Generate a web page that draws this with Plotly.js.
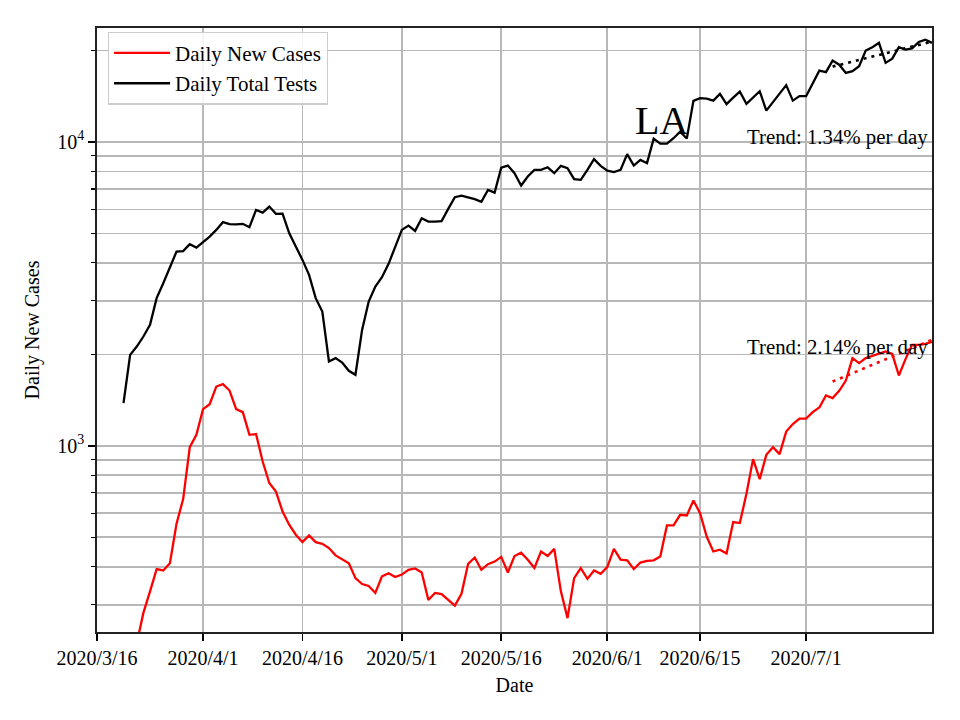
<!DOCTYPE html>
<html>
<head>
<meta charset="utf-8">
<script src="https://cdn.plot.ly/plotly-3.0.1.min.js"></script>
<style>html,body{margin:0;padding:0;background:#fff;}</style>
</head>
<body>
<div id="chart" style="width:960px;height:720px;"></div>
<script>
// ---- data ----
const testsStart = '2020-03-20';
const dailyTotalTests = [1382,1992,2121,2289,2500,3061,3429,3889,4356,4370,4608,4491,4677,4881,5134,5443,5360,5350,5375,5241,
  5974,5853,6127,5796,5810,5010,4525,4091,3651,3061,2766,1894,1943,1880,1765,1713,2407,2984,3342,3589,
  3970,4550,5134,5305,5095,5611,5469,5469,5490,6020,6577,6658,6577,6480,6347,6952,6811,8232,8357,7889,
  7184,7690,8090,8090,8250,7889,8340,8195,7540,7499,8090,8771,8337,8047,7950,8090,9110,8357,8725,8512,
  10254,9872,9872,10284,10812,10254,13644,13924,13870,13670,14385,13310,13986,14640,13335,13990,14680,12677,13500,14400,
  15370,13670,14140,14140,15570,17160,16960,18510,17950,16870,17080,17740,19970,20490,21170,18200,18790,20490,20120,20300,
  21330,21700,21170];
const casesStart = '2020-03-22';
const dailyNewCases = [224,282,332,393,389,411,554,668,990,1087,1320,1371,1567,1596,1520,1320,1291,1087,1093,888,
  754,707,608,550,510,482,507,482,476,461,436,424,411,367,351,346,328,372,381,370,
  377,391,395,383,311,328,325,311,298,326,409,429,391,408,416,431,383,434,445,422,
  396,449,434,458,332,271,367,396,365,389,379,399,458,422,420,393,413,418,420,432,
  547,547,593,590,661,600,503,449,455,442,561,557,695,904,777,934,990,939,1114,1179,
  1229,1229,1291,1337,1464,1435,1517,1640,1944,1871,1944,1978,2007,2043,2007,1704,1929,2149,2149,2165,
  2201];
const trendDates = ['2020-07-05', '2020-07-20'];
const testsTrend = [17690, 21380];
const casesTrend = [1627, 2233];
const xTickVals = ['2020-03-16','2020-04-01','2020-04-16','2020-05-01','2020-05-16','2020-06-01','2020-06-15','2020-07-01'];
const xTickText = ['2020/3/16','2020/4/1','2020/4/16','2020/5/1','2020/5/16','2020/6/1','2020/6/15','2020/7/1'];
const yMajorVals = [1000, 10000];
const yMajorText = ['10<sup>3</sup>', '10<sup>4</sup>'];
const yMinorVals = [300,400,500,600,700,800,900,2000,3000,4000,5000,6000,7000,8000,9000,20000];
const testsTrendLabel = 'Trend: 1.34% per day';
const casesTrendLabel = 'Trend: 2.14% per day';

function dateSeq(start, n) {
  const out = [];
  const d0 = new Date(start + 'T00:00:00Z');
  for (let i = 0; i < n; i++) {
    const d = new Date(d0.getTime() + i * 86400000);
    out.push(d.toISOString().slice(0, 10));
  }
  return out;
}

const FONT = 'Liberation Serif, Times New Roman, serif';
const GRID = '#b8b8b8';

const traces = [
  {x: dateSeq(casesStart, dailyNewCases.length), y: dailyNewCases, type: 'scatter', mode: 'lines',
   name: 'Daily New Cases', line: {color: '#ff0000', width: 2.3}},
  {x: dateSeq(testsStart, dailyTotalTests.length), y: dailyTotalTests, type: 'scatter', mode: 'lines',
   name: 'Daily Total Tests', line: {color: '#000000', width: 2.3}},
  {x: trendDates, y: casesTrend, type: 'scatter', mode: 'lines', showlegend: false,
   line: {color: '#ff0000', width: 2.6, dash: '3px,5px'}},
  {x: trendDates, y: testsTrend, type: 'scatter', mode: 'lines', showlegend: false,
   line: {color: '#000000', width: 2.6, dash: '3px,5px'}}
];

const layout = {
  width: 960, height: 720,
  margin: {l: 97, r: 28, t: 28, b: 88},
  paper_bgcolor: '#ffffff', plot_bgcolor: '#ffffff',
  font: {family: FONT, size: 20, color: '#000'},
  showlegend: true,
  legend: {x: 0.013, y: 0.994, xanchor: 'left', yanchor: 'top', itemwidth: 56,
    tracegroupgap: 0,
    bgcolor: 'rgba(255,255,255,0.85)', bordercolor: '#cccccc', borderwidth: 1.2,
    font: {family: FONT, size: 21, color: '#000'}},
  xaxis: {
    type: 'date', range: ['2020-03-16', '2020-07-20'],
    tickmode: 'array', tickvals: xTickVals, ticktext: xTickText,
    ticks: 'outside', ticklen: 7, tickwidth: 1.6, tickcolor: '#000',
    showline: true, linecolor: '#222', linewidth: 1.7, mirror: true,
    showgrid: true, gridcolor: GRID, gridwidth: 1.6, zeroline: false,
    tickfont: {family: FONT, size: 20, color: '#000'},
    title: {text: 'Date', font: {family: FONT, size: 20, color: '#000'}, standoff: 10}
  },
  yaxis: {
    type: 'log', range: [Math.log10(244), Math.log10(23700)],
    tickmode: 'array', tickvals: yMajorVals, ticktext: yMajorText,
    ticks: 'outside', ticklen: 7, tickwidth: 1.6, tickcolor: '#000',
    minor: {tickmode: 'array', tickvals: yMinorVals, ticks: 'outside', ticklen: 4, tickwidth: 1.2,
            tickcolor: '#000', showgrid: true, gridcolor: GRID, gridwidth: 1.6},
    showline: true, linecolor: '#222', linewidth: 1.7, mirror: true,
    showgrid: true, gridcolor: GRID, gridwidth: 1.6, zeroline: false,
    tickfont: {family: FONT, size: 20, color: '#000'},
    title: {text: 'Daily New Cases', font: {family: FONT, size: 20, color: '#000'}, standoff: 12}
  },
  annotations: [
    {xref: 'paper', yref: 'paper', x: (661 - 97) / 835, y: (632 - 121) / 604, text: 'LA',
     showarrow: false, xanchor: 'center', yanchor: 'middle', font: {family: FONT, size: 40, color: '#000'}},
    {xref: 'paper', yref: 'paper', x: (930 - 97) / 835, y: (632 - 137) / 604, text: testsTrendLabel,
     showarrow: false, xanchor: 'right', yanchor: 'middle', xshift: 0, font: {family: FONT, size: 20.8, color: '#000'}},
    {xref: 'paper', yref: 'paper', x: (930 - 97) / 835, y: (632 - 347) / 604, text: casesTrendLabel,
     showarrow: false, xanchor: 'right', yanchor: 'middle', font: {family: FONT, size: 20.8, color: '#000'}}
  ]
};

Plotly.newPlot('chart', traces, layout, {displayModeBar: false, staticPlot: true});
</script>
</body>
</html>
